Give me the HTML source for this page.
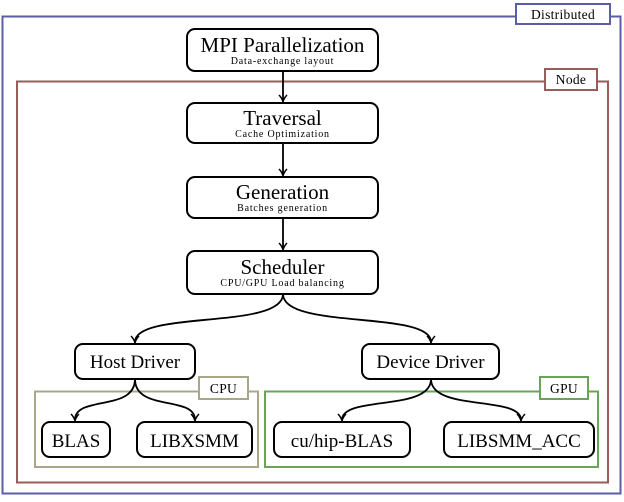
<!DOCTYPE html>
<html><head><style>body{margin:0;background:#fff}</style></head><body>
<svg width="624" height="497" viewBox="0 0 624 497" xmlns="http://www.w3.org/2000/svg" font-family="Liberation Serif, serif">
<defs><marker id="a" markerWidth="10" markerHeight="10" refX="7" refY="5" orient="auto" markerUnits="userSpaceOnUse"><path d="M1,1 Q4,4 8,5 Q4,6 1,9" fill="none" stroke="#000" stroke-width="1.5"/></marker></defs>
<rect x="2.5" y="16.5" width="618" height="477" fill="none" stroke="#5b5ea6" stroke-width="2"/>
<rect x="516" y="4" width="94" height="20" fill="#fff" stroke="#5b5ea6" stroke-width="2"/>
<text x="563" y="19" font-size="13.5" text-anchor="middle" letter-spacing="0.3">Distributed</text>
<rect x="17" y="81.5" width="591" height="401" fill="none" stroke="#9a5b5b" stroke-width="2"/>
<rect x="545" y="69" width="52" height="21" fill="#fff" stroke="#9a5b5b" stroke-width="2"/>
<text x="571" y="84" font-size="13.5" text-anchor="middle" letter-spacing="0.3">Node</text>
<rect x="35" y="391.5" width="223" height="75.5" fill="none" stroke="#a8a888" stroke-width="2"/>
<rect x="199" y="377" width="49" height="22" fill="#fff" stroke="#a8a888" stroke-width="2"/>
<text x="223.5" y="393" font-size="13.5" text-anchor="middle" letter-spacing="0.3">CPU</text>
<rect x="265" y="391.5" width="333" height="75.5" fill="none" stroke="#6aa45a" stroke-width="2"/>
<rect x="540" y="377" width="48" height="22" fill="#fff" stroke="#6aa45a" stroke-width="2"/>
<text x="564" y="393" font-size="13.5" text-anchor="middle" letter-spacing="0.3">GPU</text>
<g fill="#fff" stroke="#000" stroke-width="2">
<rect x="187" y="29" width="191" height="42" rx="8"/>
<rect x="187" y="103" width="191" height="40" rx="8"/>
<rect x="187" y="177" width="191" height="41" rx="8"/>
<rect x="187" y="251" width="191" height="43" rx="8"/>
<rect x="75" y="344" width="120" height="35" rx="8"/>
<rect x="362" y="344" width="137" height="35" rx="8"/>
<rect x="42" y="422" width="68" height="35" rx="8"/>
<rect x="137" y="422" width="115" height="35" rx="8"/>
<rect x="274" y="422" width="136" height="35" rx="8"/>
<rect x="444" y="422" width="150" height="35" rx="8"/>
</g>
<g fill="none" stroke="#000" stroke-width="1.8" marker-end="url(#a)">
<path d="M283,71 V101"/><path d="M283,143 V175"/><path d="M283,218 V249"/>
<path d="M283,294 C283,330 135,310 135,342"/>
<path d="M283,294 C283,330 431,310 431,342"/>
<path d="M135,379 C135,412 75,395 75,420"/>
<path d="M135,379 C135,412 195,395 195,420"/>
<path d="M431,379 C431,412 342,395 342,420"/>
<path d="M431,379 C431,412 521,395 521,420"/>
</g>
<g text-anchor="middle">
<text x="282.5" y="52" font-size="21">MPI Parallelization</text>
<text x="282.5" y="64" font-size="10" letter-spacing="0.8">Data-exchange layout</text>
<text x="282.5" y="125" font-size="21">Traversal</text>
<text x="282.5" y="137" font-size="10" letter-spacing="0.8">Cache Optimization</text>
<text x="282.5" y="199" font-size="21">Generation</text>
<text x="282.5" y="211" font-size="10" letter-spacing="0.8">Batches generation</text>
<text x="282.5" y="274" font-size="21">Scheduler</text>
<text x="282.5" y="286" font-size="10" letter-spacing="0.8">CPU/GPU Load balancing</text>
<text x="135" y="368" font-size="19">Host Driver</text>
<text x="430.5" y="368" font-size="19">Device Driver</text>
<text x="76" y="447" font-size="19">BLAS</text>
<text x="194.5" y="447" font-size="19">LIBXSMM</text>
<text x="342" y="447" font-size="19">cu/hip-BLAS</text>
<text x="519" y="447" font-size="19">LIBSMM_ACC</text>
</g>
</svg>
</body></html>
